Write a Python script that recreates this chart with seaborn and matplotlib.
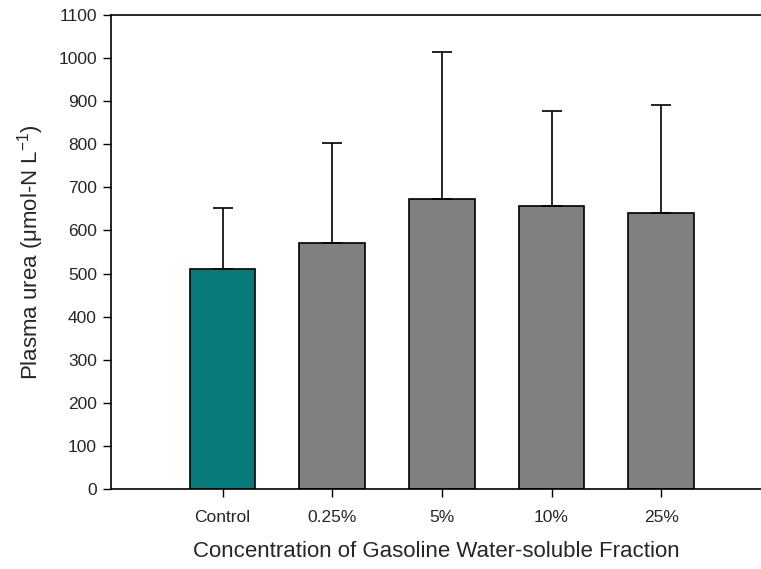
import matplotlib
matplotlib.use("Agg")
import matplotlib.pyplot as plt
import seaborn as sns
import pandas as pd
import numpy as np

categories = ["Control", "0.25%", "5%", "10%", "25%"]
means = [510, 571, 673, 657, 640]
upper_err = [142, 232, 341, 220, 251]
colors = ["#077A7A", "#808080", "#808080", "#808080", "#808080"]
yticks = list(range(0, 1101, 100))

sns.set_style("white")
plt.rcParams["font.family"] = ["Liberation Sans", "DejaVu Sans"]
plt.rcParams["mathtext.fontset"] = "custom"
plt.rcParams["mathtext.rm"] = "Liberation Sans"
plt.rcParams["mathtext.it"] = "Liberation Sans:italic"

df = pd.DataFrame({"cat": categories, "val": means})

fig = plt.figure(figsize=(7.61, 5.69), dpi=100)
ax = fig.add_axes([0.1455, 0.1406, 0.8545, 0.833])

sns.barplot(data=df, x="cat", y="val", hue="cat", palette=colors, legend=False,
            errorbar=None, width=0.6, edgecolor="black", linewidth=1.2,
            saturation=1, ax=ax)

xs = np.arange(len(categories))
ax.errorbar(xs, means, yerr=[np.zeros(len(means)), upper_err], fmt="none",
            ecolor="black", elinewidth=1.2, capsize=7, capthick=1.2, zorder=1)

ax.set_xlim(-1.02, 4.91)
ax.set_ylim(0, 1100)
ax.set_yticks(yticks)
ax.set_yticklabels([str(t) for t in yticks])

for s in ["left", "bottom", "top"]:
    ax.spines[s].set_visible(True)
    ax.spines[s].set_color("black")
    ax.spines[s].set_linewidth(1.2)
ax.spines["right"].set_visible(False)

ax.tick_params(axis="both", which="major", direction="out", length=6, width=1,
               color="black", labelsize=12.5, left=True, bottom=True, pad=4)
ax.tick_params(axis="x", pad=9)

ax.set_xlabel("Concentration of Gasoline Water-soluble Fraction", fontsize=16, labelpad=12)
ax.set_ylabel("Plasma urea (μmol-N L$^{-1}$)", fontsize=16, labelpad=9)

fig.savefig("out.png", dpi=100)
